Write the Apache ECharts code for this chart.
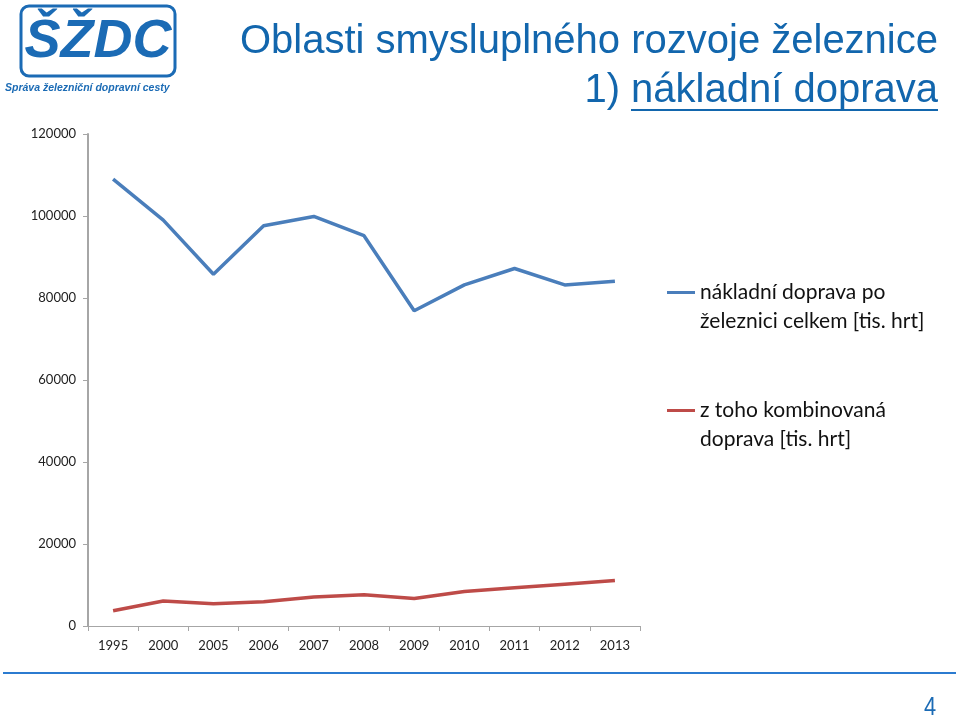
<!DOCTYPE html>
<html lang="cs">
<head>
<meta charset="utf-8" />
<title>Oblasti smysluplného rozvoje železnice</title>
<script src="https://cdn.jsdelivr.net/npm/echarts@6/dist/echarts.min.js"></script>
<style>
  html, body { margin: 0; padding: 0; background: #fff; }
  #chart { width: 960px; height: 719px; }
</style>
</head>
<body>
<div id="chart"></div>
<script type="text/javascript">
// roky na ose x
const years = ['1995', '2000', '2005', '2006', '2007', '2008', '2009', '2010', '2011', '2012', '2013'];
// nákladní doprava po železnici celkem [tis. hrt]
const totalFreight = [109000, 99000, 85800, 97600, 99900, 95200, 76900, 83200, 87200, 83200, 84100];
// z toho kombinovaná doprava [tis. hrt]
const combinedFreight = [3700, 6100, 5400, 5900, 7100, 7600, 6700, 8400, 9300, 10200, 11100];
const seriesNames = ['nákladní doprava po\nželeznici celkem [tis. hrt]', 'z toho kombinovaná\ndoprava [tis. hrt]'];

const myChart = echarts.init(document.getElementById('chart'));
const blueText = '#1266ad';

const option = {
    animation: false,
    backgroundColor: '#fff',
    grid: { left: 88, right: 320, top: 134, bottom: 93 },
    legend: {
        orient: 'vertical',
        left: 667,
        top: 249,
        padding: 0,
        icon: 'rect',
        itemWidth: 28,
        itemHeight: 3,
        itemGap: 31,
        data: seriesNames,
        // prázdný řádek navíc, aby čára legendy stála u prvního řádku textu
        formatter: function (name) { return ' \n' + name; },
        textStyle: {
            fontFamily: 'Lato',
            fontSize: 21,
            color: '#111',
            lineHeight: 29
        }
    },
    xAxis: {
        type: 'category',
        data: years,
        boundaryGap: true,
        axisLine: { lineStyle: { color: '#a6a6a6', width: 1 } },
        axisTick: { show: true, length: 5, lineStyle: { color: '#a6a6a6' } },
        axisLabel: { fontFamily: 'Lato', fontSize: 13, color: '#222', margin: 13 }
    },
    yAxis: {
        type: 'value',
        min: 0,
        max: 120000,
        interval: 20000,
        splitLine: { show: false },
        axisLine: { show: true, lineStyle: { color: '#a6a6a6', width: 2 } },
        axisTick: { show: true, length: 5, lineStyle: { color: '#a6a6a6' } },
        axisLabel: {
            fontFamily: 'Lato', fontSize: 13, color: '#222', margin: 12,
            formatter: function (v) { return String(v); }
        }
    },
    series: [
        {
            name: seriesNames[0],
            type: 'line',
            data: totalFreight,
            symbol: 'none',
            color: '#4a7ebb',
            lineStyle: { width: 3.5, color: '#4a7ebb' }
        },
        {
            name: seriesNames[1],
            type: 'line',
            data: combinedFreight,
            symbol: 'none',
            color: '#be4b48',
            lineStyle: { width: 3.5, color: '#be4b48' }
        }
    ],
    graphic: [
        // logo SŽDC
        {
            type: 'rect',
            shape: { x: 21, y: 6, width: 154, height: 70, r: 8 },
            style: { fill: '#fff', stroke: '#1b6bb5', lineWidth: 3 }
        },
        {
            type: 'text',
            style: {
                x: 98, y: 42,
                text: 'ŠŽDC',
                align: 'center',
                verticalAlign: 'middle',
                fontFamily: 'Liberation Sans',
                fontWeight: 'bold',
                fontStyle: 'italic',
                fontSize: 54,
                fill: '#1b6bb5'
            }
        },
        {
            type: 'text',
            style: {
                x: 5, y: 88,
                text: 'Správa železniční dopravní cesty',
                align: 'left',
                verticalAlign: 'middle',
                fontFamily: 'Liberation Sans',
                fontStyle: 'italic',
                fontWeight: 'bold',
                fontSize: 10.5,
                fill: '#1b6bb5'
            }
        },
        // nadpis
        {
            type: 'text',
            style: {
                x: 938, y: 42,
                text: 'Oblasti smysluplného rozvoje železnice',
                align: 'right',
                verticalAlign: 'middle',
                fontFamily: 'Liberation Sans',
                fontSize: 40,
                fill: blueText
            }
        },
        {
            type: 'text',
            style: {
                x: 938, y: 91,
                text: '1) nákladní doprava',
                align: 'right',
                verticalAlign: 'middle',
                fontFamily: 'Liberation Sans',
                fontSize: 40,
                fill: blueText
            }
        },
        {
            type: 'line',
            shape: { x1: 631, y1: 110, x2: 938, y2: 110 },
            style: { stroke: blueText, lineWidth: 2 }
        },
        // spodní linka a číslo strany
        {
            type: 'line',
            shape: { x1: 3, y1: 673, x2: 956, y2: 673 },
            style: { stroke: '#2b7bd0', lineWidth: 2 }
        },
        {
            type: 'text',
            x: 930, y: 708,
            scaleX: 0.84,
            style: {
                x: 0, y: 0,
                text: '4',
                align: 'center',
                verticalAlign: 'middle',
                fontFamily: 'Liberation Sans',
                fontSize: 26,
                fill: '#1b6bb5'
            }
        }
    ]
};
myChart.setOption(option);
</script>
</body>
</html>
